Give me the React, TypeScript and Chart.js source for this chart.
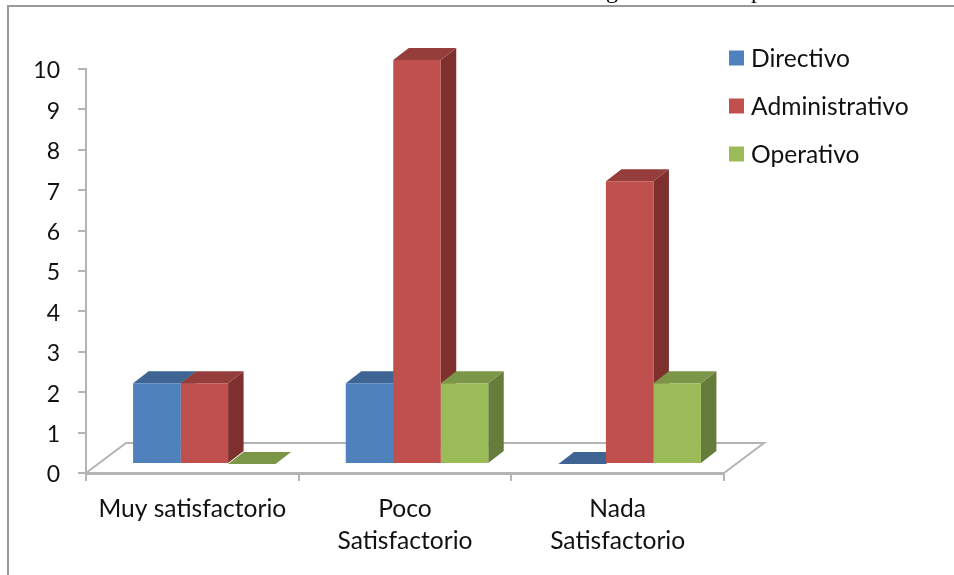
import { useEffect, useRef } from "react";
import { Chart, registerables } from "chart.js";

Chart.register(...registerables);

const categories = ["Muy satisfactorio", ["Poco", "Satisfactorio"], ["Nada", "Satisfactorio"]];
const directivo = [2, 2, 0];
const administrativo = [2, 10, 7];
const operativo = [0, 2, 2];
const yTicks = [0, 1, 2, 3, 4, 5, 6, 7, 8, 9, 10];

const FONT = "Lato, Carlito, sans-serif";
const AXIS_GREY = "#b4b4b4";

const palette = [
  { front: "#4f81bd", top: "#3e6594", side: "#3a5f8c" },
  { front: "#c0504d", top: "#943d3b", side: "#7d302e" },
  { front: "#9bbb59", top: "#7c9648", side: "#667c3b" },
];

// Offset of the bars' front plane on the floor, and the depth of each bar.
const PLANE = { dx: 12, dy: -9 };
const DEPTH = { dx: 15.5, dy: -12 };
const FLOOR = { dx: 40, dy: -30 };

function poly(ctx: CanvasRenderingContext2D, pts: number[][], fill: string) {
  ctx.beginPath();
  pts.forEach(([x, y], i) => (i ? ctx.lineTo(x, y) : ctx.moveTo(x, y)));
  ctx.closePath();
  ctx.fillStyle = fill;
  ctx.fill();
}

const extrusion = {
  id: "extrusion",
  beforeDraw(chart: any) {
    // Lato sits high on its em box, so the value labels are nudged down.
    chart.scales.y.getLabelItems().forEach((item: any) => {
      item.textOffset = 2;
    });
  },
  beforeDatasetsDraw(chart: any) {
    const { ctx, chartArea: a } = chart;
    // Floor outline behind the bars.
    ctx.save();
    ctx.strokeStyle = AXIS_GREY;
    ctx.lineWidth = 2;
    ctx.beginPath();
    ctx.moveTo(a.left, a.bottom);
    ctx.lineTo(a.left + FLOOR.dx, a.bottom + FLOOR.dy);
    ctx.lineTo(a.right + FLOOR.dx, a.bottom + FLOOR.dy);
    ctx.lineTo(a.right, a.bottom);
    ctx.stroke();
    ctx.restore();

    // Tops and sides go first, left to right; the library then paints the
    // front faces over them, inside the translated plane.
    ctx.save();
    ctx.translate(PLANE.dx, PLANE.dy);
    const groups = chart.data.labels.length;
    for (let g = 0; g < groups; g++) {
      chart.data.datasets.forEach((_: any, d: number) => {
        const bar = chart.getDatasetMeta(d).data[g];
        const l = bar.x - bar.width / 2;
        const r = bar.x + bar.width / 2;
        const t = bar.y;
        const b = bar.base;
        const c = palette[d];
        if (b - t > 0.5) {
          poly(ctx, [[r, t], [r + DEPTH.dx, t + DEPTH.dy], [r + DEPTH.dx, b + DEPTH.dy], [r, b]], c.side);
        }
        poly(ctx, [[l, t], [l + DEPTH.dx, t + DEPTH.dy], [r + DEPTH.dx, t + DEPTH.dy], [r, t]], c.top);
      });
    }
  },
  afterDatasetsDraw(chart: any) {
    chart.ctx.restore();
  },
  afterDraw(chart: any) {
    // Series key at the upper right.
    const { ctx } = chart;
    ctx.save();
    ctx.font = `24.6px ${FONT}`;
    ctx.textBaseline = "middle";
    ctx.textAlign = "left";
    chart.data.datasets.forEach((ds: any, i: number) => {
      const y = 58 + i * 48;
      ctx.fillStyle = palette[i].front;
      ctx.fillRect(729, y - 7.5, 15, 15);
      ctx.fillStyle = "#111";
      ctx.fillText(ds.label, 751, y + 1);
    });
    // Descenders of the line of document text that runs above the figure.
    ctx.font = "24px 'Liberation Serif', serif";
    ctx.textBaseline = "alphabetic";
    ctx.fillStyle = "#000";
    ctx.fillText("g", 606, -2);
    ctx.fillText("p", 751, -2);
    ctx.restore();
  },
};

export default function App() {
  const ref = useRef<HTMLCanvasElement>(null);

  useEffect(() => {
    const chart = new Chart(ref.current!, {
      type: "bar",
      data: {
        labels: categories as any,
        datasets: [
          { label: "Directivo", data: directivo, backgroundColor: palette[0].front },
          { label: "Administrativo", data: administrativo, backgroundColor: palette[1].front },
          { label: "Operativo", data: operativo, backgroundColor: palette[2].front },
        ],
      },
      options: {
        responsive: false,
        animation: false,
        layout: { padding: { top: 69, left: 0, right: 230, bottom: 0 } },
        datasets: { bar: { categoryPercentage: 0.67, barPercentage: 1, borderWidth: 0, clip: false as any } },
        plugins: { legend: { display: false }, tooltip: { enabled: false } },
        scales: {
          x: {
            afterFit(scale: any) {
              scale.height = 102;
              scale.paddingLeft = 0;
              scale.paddingRight = 0;
            },
            grid: { drawOnChartArea: false, drawTicks: true, tickLength: 8, color: AXIS_GREY, lineWidth: 2, offset: true },
            border: { color: AXIS_GREY, width: 3 },
            ticks: { color: "#111", font: { family: FONT, size: 24.6, lineHeight: 1.3 }, padding: 12, maxRotation: 0, autoSkip: false },
          },
          y: {
            min: 0,
            max: 10,
            afterBuildTicks(scale: any) {
              scale.ticks = yTicks.map((value) => ({ value }));
            },
            afterFit(scale: any) {
              scale.width = 86;
              scale.paddingTop = 0;
              scale.paddingBottom = 0;
            },
            grid: { drawOnChartArea: false, drawTicks: true, tickLength: 8, color: AXIS_GREY, lineWidth: 2 },
            border: { color: AXIS_GREY, width: 2 },
            ticks: { color: "#111", font: { family: FONT, size: 23 }, padding: 18 },
          },
        },
      },
      plugins: [extrusion],
    });
    return () => chart.destroy();
  }, []);

  return (
    <div style={{ position: "fixed", left: 0, top: 0, width: 954, height: 575, background: "#fff" }}>
      <div
        style={{
          position: "absolute",
          left: 7,
          top: 5,
          width: 945,
          bottom: 0,
          borderLeft: "2px solid #9a9a9a",
          borderTop: "2px solid #9a9a9a",
        }}
      />
      <canvas ref={ref} width={954} height={575} style={{ position: "absolute", left: 0, top: 0, display: "block" }} />
    </div>
  );
}
